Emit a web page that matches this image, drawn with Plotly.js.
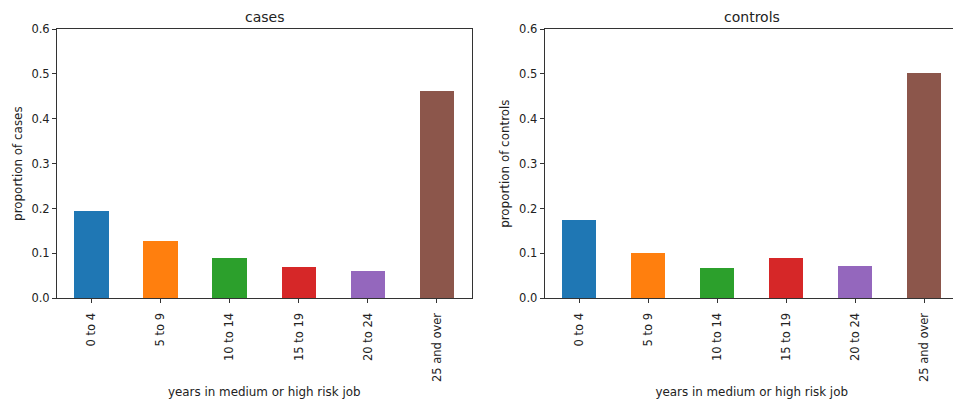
<!DOCTYPE html>
<html>
<head>
<meta charset="utf-8">
<script src="https://cdn.plot.ly/plotly-3.0.1.min.js"></script>
<style>
html, body { margin:0; padding:0; overflow:hidden; background:#fff; }
#chart { width:960px; height:405px; }
</style>
</head>
<body>
<div id="chart"></div>
<script>
const categories = ['0 to 4', '5 to 9', '10 to 14', '15 to 19', '20 to 24', '25 and over'];
const casesValues = [0.194, 0.128, 0.089, 0.069, 0.061, 0.462];
const controlsValues = [0.174, 0.102, 0.067, 0.089, 0.072, 0.503];
const barColors = ['#1f77b4', '#ff7f0e', '#2ca02c', '#d62728', '#9467bd', '#8c564b'];
const yTicks = [0, 0.1, 0.2, 0.3, 0.4, 0.5, 0.6];
const panelTitles = ['cases', 'controls'];
const xTitle = 'years in medium or high risk job';
const yTitles = ['proportion of cases', 'proportion of controls'];

const W = 960, H = 405;
const font = {family: 'DejaVu Sans', size: 11.5, color: '#222'};
const labelFont = {family: 'DejaVu Sans', size: 11.9, color: '#222'};

function bar(vals, xa, ya) {
  return {
    type: 'bar', x: categories, y: vals, xaxis: xa, yaxis: ya,
    width: 0.5,
    marker: {color: barColors, line: {width: 0}},
    showlegend: false, hoverinfo: 'x+y'
  };
}

function xAxis(domain, rangeEnd) {
  return {
    domain: domain, type: 'category', range: [-0.5, rangeEnd],
    showline: true, mirror: true, linecolor: '#333', linewidth: 1,
    ticks: 'outside', ticklen: 4, tickcolor: '#333', tickwidth: 1,
    tickangle: -90, tickfont: font, ticklabelstandoff: 5,
    showgrid: false, zeroline: false,
    title: {text: xTitle, font: labelFont, standoff: 6}, automargin: false
  };
}
function yAxis(domain, anchor, title) {
  return {
    domain: domain, anchor: anchor, range: [0, 0.6],
    tickvals: yTicks, tickformat: '.1f',
    showline: true, mirror: true, linecolor: '#333', linewidth: 1,
    ticks: 'outside', ticklen: 4, tickcolor: '#333', tickwidth: 1,
    tickfont: font, showgrid: false, zeroline: false,
    title: {text: title, font: labelFont, standoff: 6}, automargin: false
  };
}

const yDom = [(H - 298.3) / H, (H - 29) / H];
const x1Dom = [57 / W, 471.5 / W];
const x2Dom = [544.7 / W, 958.7 / W];

const layout = {
  width: W, height: H,
  margin: {l: 0, r: 0, t: 0, b: 0},
  paper_bgcolor: '#fff', plot_bgcolor: '#fff',
  font: font,
  bargap: 0,
  xaxis: Object.assign(xAxis(x1Dom, 5.5), {anchor: 'y'}),
  yaxis: yAxis(yDom, 'x', yTitles[0]),
  xaxis2: Object.assign(xAxis(x2Dom, 5.5), {anchor: 'y2'}),
  yaxis2: yAxis(yDom, 'x2', yTitles[1]),
  annotations: [
    {text: panelTitles[0], xref: 'paper', yref: 'paper', x: (x1Dom[0] + x1Dom[1]) / 2, y: yDom[1],
     yshift: 2, xanchor: 'center', yanchor: 'bottom', showarrow: false,
     font: {family: 'DejaVu Sans', size: 14, color: '#222'}},
    {text: panelTitles[1], xref: 'paper', yref: 'paper', x: (x2Dom[0] + x2Dom[1]) / 2, y: yDom[1],
     yshift: 2, xanchor: 'center', yanchor: 'bottom', showarrow: false,
     font: {family: 'DejaVu Sans', size: 14, color: '#222'}}
  ]
};

Plotly.newPlot('chart', [bar(casesValues, 'x', 'y'), bar(controlsValues, 'x2', 'y2')], layout,
  {staticPlot: true, displayModeBar: false});
</script>
</body>
</html>
